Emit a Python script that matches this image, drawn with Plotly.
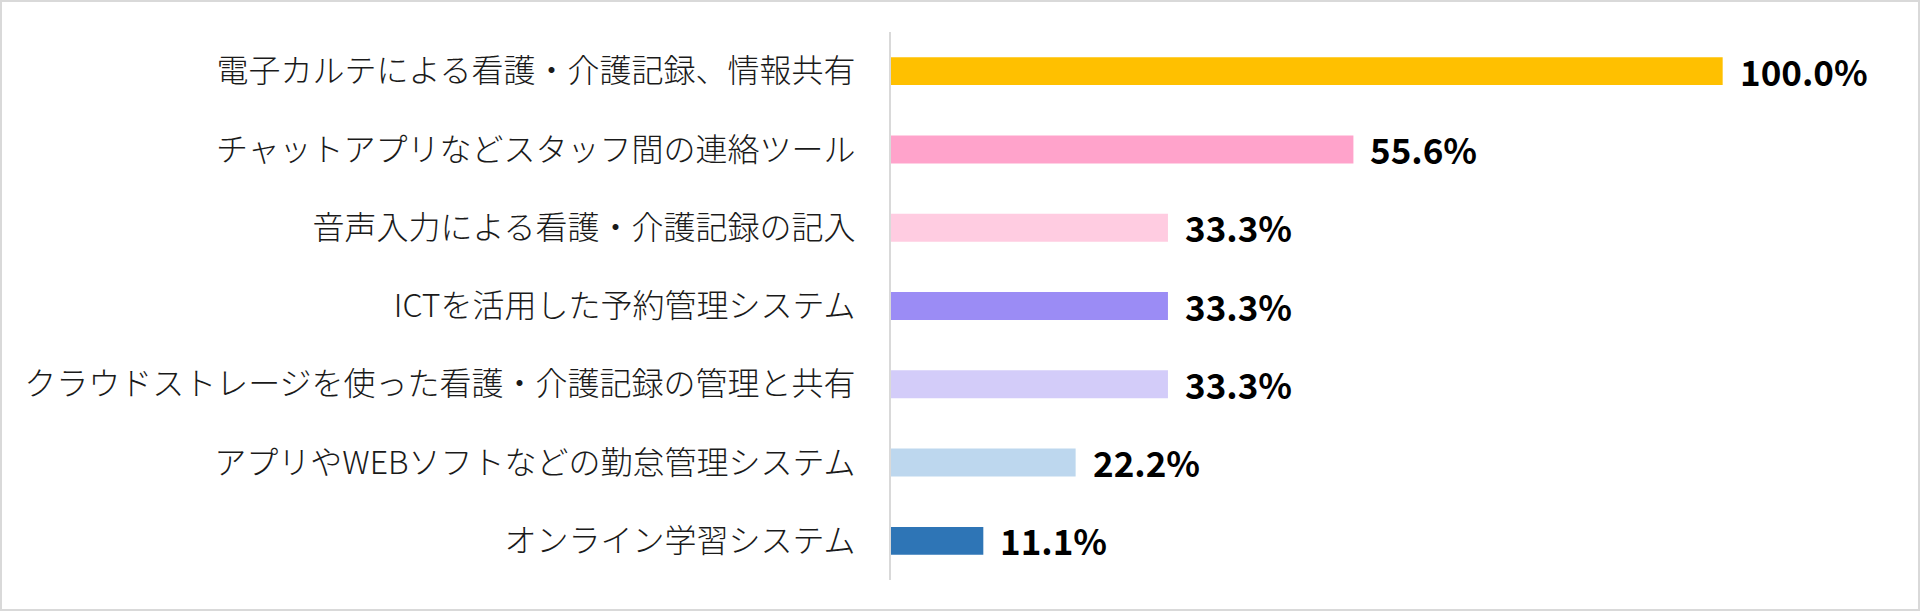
import plotly.graph_objects as go

categories = [
    "電子カルテによる看護・介護記録、情報共有",
    "チャットアプリなどスタッフ間の連絡ツール",
    "音声入力による看護・介護記録の記入",
    "ICTを活用した予約管理システム",
    "クラウドストレージを使った看護・介護記録の管理と共有",
    "アプリやWEBソフトなどの勤怠管理システム",
    "オンライン学習システム",
]
values = [100.0, 55.6, 33.3, 33.3, 33.3, 22.2, 11.1]
value_labels = ["100.0%", "55.6%", "33.3%", "33.3%", "33.3%", "22.2%", "11.1%"]
colors = ["#FFC000", "#FFA3CB", "#FFCCE1", "#9B8CF5", "#D3CCF9", "#BDD7EE", "#2E75B6"]

W, H = 1920, 611
ML, MR, MT, MB = 891, 31, 32, 31
XMAX = 120.0

fig = go.Figure()
fig.add_trace(go.Bar(
    y=categories,
    x=values,
    orientation="h",
    marker=dict(color=colors, line=dict(width=0)),
    hoverinfo="skip",
))

for c, v, t in zip(categories, values, value_labels):
    fig.add_annotation(
        x=v, y=c, text=t, showarrow=False,
        xanchor="left", yanchor="middle", xshift=15, yshift=1,
        font=dict(family="Noto Sans CJK JP", size=35, color="#000000", weight="bold"),
    )

pw = W - ML - MR
ph = H - MT - MB
fig.add_shape(
    type="rect", xref="paper", yref="paper",
    x0=-(ML - 1) / pw, x1=1 + (MR - 1) / pw,
    y0=-(MB - 1) / ph, y1=1 + (MT - 1) / ph,
    line=dict(color="#D9D9D9", width=2), fillcolor="rgba(0,0,0,0)", layer="below",
)

fig.update_layout(
    width=W, height=H,
    margin=dict(l=ML, r=MR, t=MT, b=MB, pad=0),
    paper_bgcolor="white", plot_bgcolor="white",
    bargap=0.643,
    showlegend=False,
    xaxis=dict(range=[0, XMAX], visible=False, fixedrange=True),
    yaxis=dict(
        autorange="reversed", fixedrange=True,
        showline=True, linecolor="#D9D9D9", linewidth=2,
        showgrid=False, zeroline=False, ticks="",
        ticklabelstandoff=27,
        tickfont=dict(family="Noto Sans CJK JP", size=32, color="#1a1a1a", weight=300),
    ),
)

fig.write_html(
    "out.html",
    config={"displayModeBar": False, "staticPlot": True},
    post_script="document.body.style.margin='0px';document.body.style.overflow='hidden';",
)
